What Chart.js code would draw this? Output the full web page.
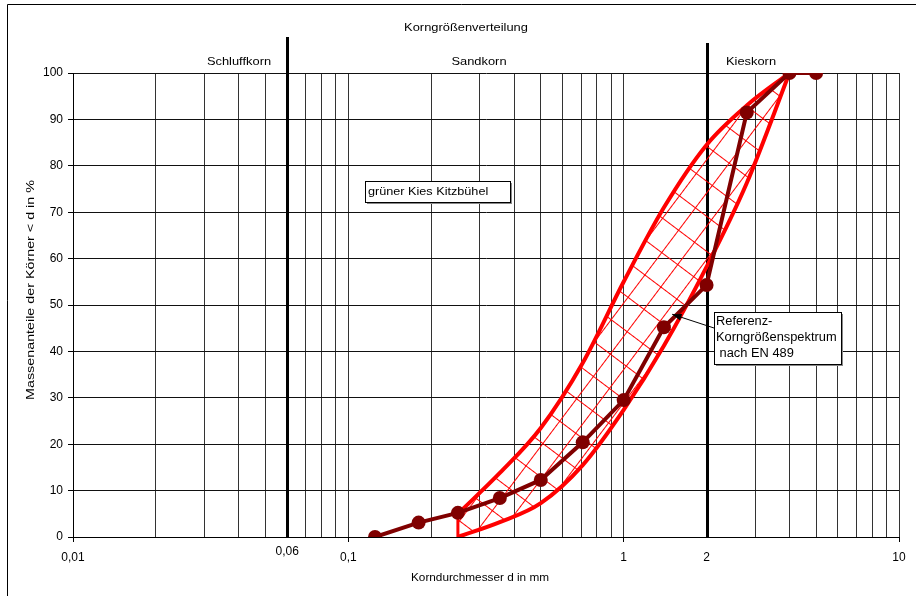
<!DOCTYPE html>
<html>
<head>
<meta charset="utf-8">
<script src="https://cdn.jsdelivr.net/npm/chart.js@4.4.1/dist/chart.umd.min.js"></script>
<style>
  body { margin: 0; background: #fff; }
  canvas { display: block; }
</style>
</head>
<body>
<canvas id="chart" width="916" height="596"></canvas>
<script>
// Siebdurchgang grüner Kies Kitzbühel
const sieveSizes = [0.125, 0.18, 0.25, 0.355, 0.5, 0.71, 1, 1.4, 2, 2.8, 4, 5];
const passing = [0, 3.1, 5.2, 8.4, 12.3, 20.4, 29.5, 45.2, 54.3, 91.5, 100, 100];

// Referenz-Korngrößenspektrum nach EN 489 (Grenzlinien)
const envSizes = [0.25, 0.355, 0.5, 0.71, 1, 1.4, 2, 2.8, 4];
const envUpper = [5, 13.8, 23.5, 37.5, 55, 71, 84.5, 93, 100];
const envLower = [0, 3.2, 7.3, 15.5, 27.4, 41.2, 58.2, 76.3, 100];

// x axis
const xGrid = [0.01, 0.02, 0.03, 0.04, 0.05, 0.06, 0.07, 0.08, 0.09,
  0.1, 0.2, 0.3, 0.4, 0.5, 0.6, 0.7, 0.8, 0.9,
  1, 2, 3, 4, 5, 6, 7, 8, 9, 10];
const xTickValues = [0.01, 0.06, 0.1, 1, 2, 10];
const xTickLabels = ["0,01", "0,06", "0,1", "1", "2", "10"];
const xTickMarks = [0.01, 0.1, 1, 10];
const raisedTick = 0.06; // steht etwas höher als die anderen

// Fraktionsgrenzen
const zoneBounds = [0.06, 2];
const zoneNames = ["Schluffkorn", "Sandkorn", "Kieskorn"];

const FONT = "'Liberation Sans', Arial, sans-serif";
const near = (a, b) => Math.abs(a - b) < 1e-9 * Math.max(1, b);
const pts = (xs, ys) => xs.map((x, i) => ({ x: x, y: ys[i] }));

// Schraffur: Gitter, entlang des Bandes gedreht
const hatch = (() => {
  const w = 28, h = 20;
  const c = document.createElement("canvas");
  c.width = w;
  c.height = h;
  const g = c.getContext("2d");
  g.fillStyle = "#ff0000";
  g.fillRect(0, 0, w, 1);
  g.fillRect(0, 0, 1, h);
  const p = g.createPattern(c, "repeat");
  p.setTransform(new DOMMatrix().rotateSelf(-53));
  return p;
})();

// gestreckter Text wie im Original
function text(ctx, str, x, y, size, stretch, rot) {
  ctx.save();
  ctx.translate(x, y);
  if (rot) ctx.rotate(rot);
  ctx.scale(stretch, 1);
  ctx.font = size + "px " + FONT;
  ctx.fillText(str, 0, 0);
  ctx.restore();
}

const decor = {
  id: "decor",
  beforeDatasetsDraw(chart) {
    const { ctx, scales } = chart;
    const x = scales.x, y = scales.y;
    ctx.save();
    ctx.strokeStyle = "#000";
    ctx.lineWidth = 3;
    const tops = [37, 43];
    zoneBounds.forEach((b, i) => {
      const px = Math.round(x.getPixelForValue(b)) + 0.5;
      ctx.beginPath();
      ctx.moveTo(px, tops[i]);
      ctx.lineTo(px, y.bottom);
      ctx.stroke();
    });
    ctx.restore();
  },
  afterDraw(chart) {
    const { ctx, scales } = chart;
    const x = scales.x, y = scales.y;
    ctx.save();
    // Rahmen
    ctx.strokeStyle = "#000";
    ctx.lineWidth = 1;
    ctx.beginPath();
    ctx.moveTo(916, 4.5);
    ctx.lineTo(7.5, 4.5);
    ctx.lineTo(7.5, 596);
    ctx.stroke();

    ctx.fillStyle = "#000";
    ctx.textAlign = "center";
    ctx.textBaseline = "middle";
    text(ctx, "Korngrößenverteilung", 466, 28, 11, 1.17);
    text(ctx, zoneNames[0], 239, 62, 11, 1.17);
    text(ctx, zoneNames[1], 479, 62, 11, 1.17);
    text(ctx, zoneNames[2], 751, 62, 11, 1.17);
    text(ctx, "Korndurchmesser d in mm", 480, 578, 11, 1.07);
    text(ctx, "Massenanteile der Körner < d in %", 31, 290, 11, 1.3, -Math.PI / 2);

    // angehobene Achsenbeschriftung
    const i06 = xTickValues.indexOf(raisedTick);
    text(ctx, xTickLabels[i06], x.getPixelForValue(raisedTick), 552, 12, 1);

    // Textfelder
    const box = (l, t, w, h) => {
      ctx.fillStyle = "#888";
      ctx.fillRect(l + 2, t + 2, w, h);
      ctx.fillStyle = "#fff";
      ctx.fillRect(l, t, w, h);
      ctx.strokeStyle = "#000";
      ctx.lineWidth = 1;
      ctx.strokeRect(l + 0.5, t + 0.5, w, h);
    };
    box(365, 181, 145, 21);
    ctx.fillStyle = "#000";
    ctx.textAlign = "left";
    text(ctx, "grüner Kies Kitzbühel", 368, 191.5, 11, 1.15);

    box(714, 312, 127, 52);
    ctx.fillStyle = "#000";
    text(ctx, "Referenz-", 716, 322, 12, 1.07);
    text(ctx, "Korngrößenspektrum", 716, 338, 12, 1.07);
    text(ctx, " nach EN 489", 716, 354, 12, 1.07);

    // Pfeil
    const ax = x.getPixelForValue(1.5), ay = y.getPixelForValue(48);
    const sx = 714, sy = 328;
    ctx.strokeStyle = "#000";
    ctx.lineWidth = 1;
    ctx.beginPath();
    ctx.moveTo(sx, sy);
    ctx.lineTo(ax, ay);
    ctx.stroke();
    const ang = Math.atan2(ay - sy, ax - sx);
    ctx.beginPath();
    ctx.moveTo(ax, ay);
    ctx.lineTo(ax - 10 * Math.cos(ang - 0.35), ay - 10 * Math.sin(ang - 0.35));
    ctx.lineTo(ax - 10 * Math.cos(ang + 0.35), ay - 10 * Math.sin(ang + 0.35));
    ctx.closePath();
    ctx.fillStyle = "#000";
    ctx.fill();
    ctx.restore();
  }
};

new Chart(document.getElementById("chart"), {
  type: "line",
  data: {
    datasets: [
      {
        label: "grüner Kies Kitzbühel",
        data: pts(sieveSizes, passing),
        borderColor: "#800000",
        backgroundColor: "#800000",
        borderWidth: 4,
        pointRadius: 7,
        pointBackgroundColor: "#800000",
        pointBorderWidth: 0,
        tension: 0,
        fill: false,
      },
      {
        label: "obere Grenze",
        data: pts(envSizes, envUpper),
        borderColor: "#ff0000",
        backgroundColor: hatch,
        borderWidth: 4,
        pointRadius: 0,
        cubicInterpolationMode: "monotone",
        fill: "+1",
      },
      {
        label: "untere Grenze",
        data: pts(envSizes, envLower),
        borderColor: "#ff0000",
        backgroundColor: "rgba(0,0,0,0)",
        borderWidth: 4,
        pointRadius: 0,
        cubicInterpolationMode: "monotone",
        fill: false,
      },
      {
        label: "Abschluss",
        data: [
          { x: envSizes[0], y: envLower[0] },
          { x: envSizes[0], y: envUpper[0] },
        ],
        borderColor: "#ff0000",
        backgroundColor: "rgba(0,0,0,0)",
        borderWidth: 3,
        pointRadius: 0,
        fill: false,
      },
    ],
  },
  options: {
    responsive: false,
    animation: false,
    events: [],
    layout: { padding: { top: 73, right: 17, left: 0, bottom: 0 } },
    plugins: {
      legend: { display: false },
      title: { display: false },
      tooltip: { enabled: false },
    },
    scales: {
      x: {
        type: "logarithmic",
        min: 0.01,
        max: 10,
        afterFit: (s) => { s.height = 59; },
        afterBuildTicks: (s) => {
          s.ticks = xGrid.map((v) => ({ value: v }));
        },
        border: { color: "#000", width: 1 },
        grid: {
          color: "#333",
          lineWidth: 1,
          tickLength: 5,
          tickColor: (c) =>
            c.tick && xTickMarks.some((v) => near(c.tick.value, v)) ? "#000" : "rgba(0,0,0,0)",
        },
        ticks: {
          autoSkip: false,
          maxRotation: 0,
          padding: 8,
          color: "#000",
          font: { family: FONT, size: 12 },
          callback: (value) => {
            if (near(value, raisedTick)) return "";
            const i = xTickValues.findIndex((v) => near(value, v));
            return i >= 0 ? xTickLabels[i] : "";
          },
        },
      },
      y: {
        min: 0,
        max: 100,
        afterFit: (s) => { s.width = 73; },
        border: { color: "#000", width: 1 },
        grid: { color: "#111", lineWidth: 1, tickLength: 5, tickColor: "#000" },
        ticks: {
          stepSize: 10,
          padding: 5,
          color: "#000",
          font: { family: FONT, size: 12 },
        },
      },
    },
  },
  plugins: [decor],
});
</script>
</body>
</html>
